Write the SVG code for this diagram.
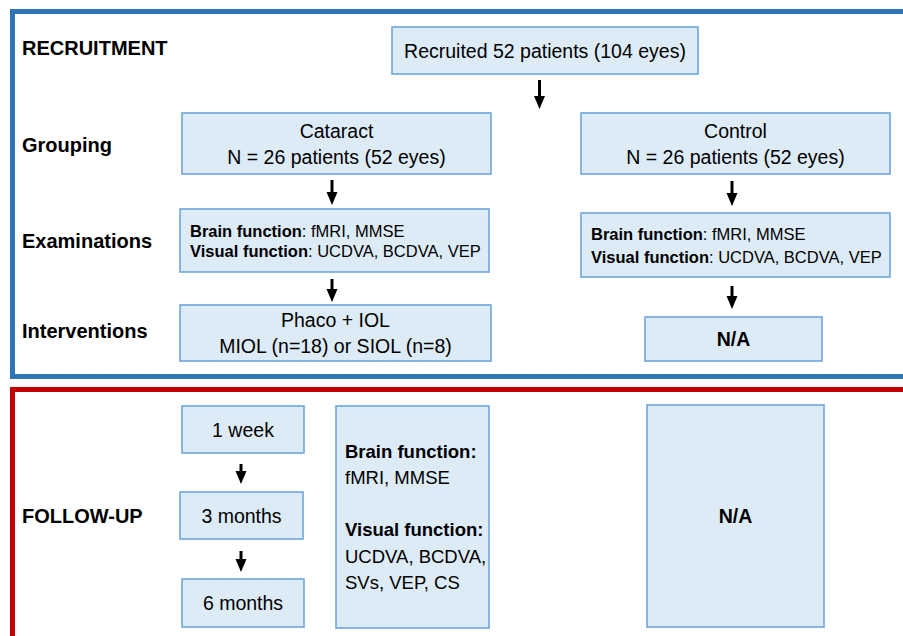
<svg xmlns="http://www.w3.org/2000/svg" width="903" height="636" viewBox="0 0 903 636">
<style>
text{font-family:"Liberation Sans",Arial,sans-serif;fill:#000}
.box{fill:#DDEBF7;stroke:#6FA6DC;stroke-width:1.6}
.lbl{font-size:20px;font-weight:bold}
.t{font-size:19.5px;text-anchor:middle}
.tb{font-size:19.5px;text-anchor:middle;font-weight:bold}
.ex{font-size:16.5px}
.inf{font-size:18.5px}
.b{font-weight:bold}
.arr{stroke:#000;stroke-width:3;fill:none}
</style>
<defs>
<marker id="ah" markerUnits="userSpaceOnUse" markerWidth="14" markerHeight="12" refX="2" refY="6" orient="auto" viewBox="0 0 14 12">
<path d="M0 0.5 L13 6 L0 11.5 Z" fill="#000"/>
</marker>
</defs>
<rect width="903" height="636" fill="#fff"/>
<g id="frames">
<path d="M906 11.5 H12.5 V376.5 H906" fill="none" stroke="#2E75B6" stroke-width="5"/>
<path d="M906 389.5 H12.5 V640" fill="none" stroke="#C00000" stroke-width="5"/>
</g>
<g id="labels">
<text class="lbl" x="22" y="55">RECRUITMENT</text>
<text class="lbl" x="22" y="152">Grouping</text>
<text class="lbl" x="22" y="248">Examinations</text>
<text class="lbl" x="22" y="338">Interventions</text>
<text class="lbl" x="22" y="523">FOLLOW-UP</text>
</g>
<g id="recruited">
<rect class="box" x="392" y="27" width="306" height="47"/>
<text class="t" x="545" y="58">Recruited 52 patients (104 eyes)</text>
</g>
<g id="cataract">
<rect class="box" x="182" y="113" width="309" height="61"/>
<text class="t" x="336.5" y="138">Cataract</text>
<text class="t" x="336.5" y="164">N = 26 patients (52 eyes)</text>
</g>
<g id="control">
<rect class="box" x="581" y="113" width="309" height="61"/>
<text class="t" x="735.5" y="138">Control</text>
<text class="t" x="735.5" y="164">N = 26 patients (52 eyes)</text>
</g>
<g id="exam-cataract">
<rect class="box" x="180" y="209" width="309" height="63"/>
<text class="ex" x="190" y="237"><tspan class="b">Brain function</tspan>: fMRI, MMSE</text>
<text class="ex" x="190" y="257"><tspan class="b">Visual function</tspan>: UCDVA, BCDVA, VEP</text>
</g>
<g id="exam-control">
<rect class="box" x="581" y="213" width="309" height="64"/>
<text class="ex" x="591" y="240"><tspan class="b">Brain function</tspan>: fMRI, MMSE</text>
<text class="ex" x="591" y="263"><tspan class="b">Visual function</tspan>: UCDVA, BCDVA, VEP</text>
</g>
<g id="interv-cataract">
<rect class="box" x="180" y="305" width="311" height="56"/>
<text class="t" x="335.5" y="327">Phaco + IOL</text>
<text class="t" x="335.5" y="353">MIOL (n=18) or SIOL (n=8)</text>
</g>
<g id="interv-control">
<rect class="box" x="645" y="317" width="177" height="44"/>
<text class="tb" x="733.5" y="346">N/A</text>
</g>
<g id="week1">
<rect class="box" x="182" y="406" width="122" height="47"/>
<text class="t" x="243" y="437">1 week</text>
</g>
<g id="month3">
<rect class="box" x="180" y="492" width="123" height="47"/>
<text class="t" x="241.5" y="523">3 months</text>
</g>
<g id="month6">
<rect class="box" x="182" y="579" width="122" height="48"/>
<text class="t" x="243" y="610">6 months</text>
</g>
<g id="followup-exams">
<rect class="box" x="336" y="406" width="153" height="222"/>
<text class="inf b" x="345" y="458">Brain function:</text>
<text class="inf" x="345" y="484">fMRI, MMSE</text>
<text class="inf b" x="345" y="536">Visual function:</text>
<text class="inf" x="345" y="563">UCDVA, BCDVA,</text>
<text class="inf" x="345" y="589">SVs, VEP, CS</text>
</g>
<g id="followup-control">
<rect class="box" x="647" y="405" width="177" height="222"/>
<text class="tb" x="735.5" y="523">N/A</text>
</g>
<g id="connectors">
<path class="arr" d="M539.5 80 V98" marker-end="url(#ah)"/>
<path class="arr" d="M332 180 V194" marker-end="url(#ah)"/>
<path class="arr" d="M732 181 V195" marker-end="url(#ah)"/>
<path class="arr" d="M332 279 V291" marker-end="url(#ah)"/>
<path class="arr" d="M732 286 V298" marker-end="url(#ah)"/>
<path class="arr" d="M241 464 V473" marker-end="url(#ah)"/>
<path class="arr" d="M241 551 V561" marker-end="url(#ah)"/>
</g>
</svg>
